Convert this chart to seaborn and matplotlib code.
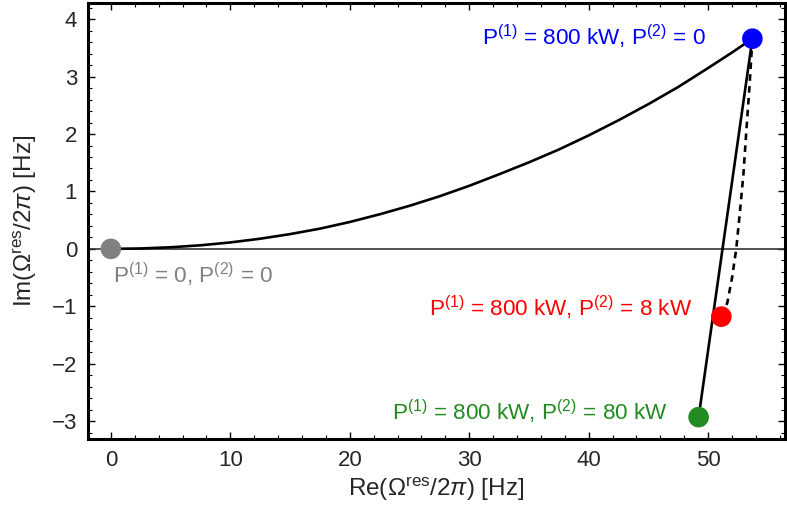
import matplotlib
matplotlib.use("Agg")
import matplotlib.pyplot as plt
from matplotlib.ticker import MultipleLocator
import seaborn as sns
import pandas as pd

# ---- data ----
curve_x = [0.0, 2.5, 5.0, 7.5, 10.0, 12.5, 15.0, 17.5, 20.0, 22.5, 25.0, 27.5,
           30.0, 32.5, 35.0, 37.5, 40.0, 42.5, 45.0, 47.5, 50.0, 52.0, 53.7]
curve_y = [0.0, 0.007, 0.028, 0.062, 0.112, 0.177, 0.257, 0.352, 0.468, 0.602, 0.75, 0.915,
           1.098, 1.299, 1.507, 1.730, 1.976, 2.240, 2.521, 2.820, 3.15, 3.42, 3.66]

solid_x = [53.7, 49.2]
solid_y = [3.66, -2.93]

dash_x = [53.7, 53.45, 53.2, 52.95, 52.65, 52.35, 52.0, 51.6, 51.1]
dash_y = [3.66, 2.8, 2.07, 1.3, 0.63, 0.0, -0.5, -0.94, -1.18]

pt_x = [0.0, 53.7, 51.1, 49.2]
pt_y = [0.0, 3.66, -1.18, -2.93]
pt_colors = ["#808080", "#0000ff", "#ff0000", "#228b22"]
pt_labels = [r"P$^{(1)}$ = 0, P$^{(2)}$ = 0",
             r"P$^{(1)}$ = 800 kW, P$^{(2)}$ = 0",
             r"P$^{(1)}$ = 800 kW, P$^{(2)}$ = 8 kW",
             r"P$^{(1)}$ = 800 kW, P$^{(2)}$ = 80 kW"]
lab_x = [0.2, 49.8, 48.7, 46.6]
lab_y = [-0.45, 3.69, -1.03, -2.84]
lab_ha = ["left", "right", "right", "right"]

sns.set_style("ticks")
plt.rcParams["font.family"] = ["Liberation Sans", "DejaVu Sans"]
plt.rcParams["mathtext.fontset"] = "custom"
plt.rcParams["mathtext.rm"] = "Liberation Sans"
plt.rcParams["mathtext.it"] = "Liberation Sans:italic"
plt.rcParams["mathtext.bf"] = "Liberation Sans:bold"

fig = plt.figure(figsize=(7.87, 5.14), dpi=100)
ax = fig.add_axes([0.112, 0.146, 0.885, 0.848])

ax.axhline(0, color="#333333", lw=1.2, zorder=1)

df_curve = pd.DataFrame({"x": curve_x, "y": curve_y})
sns.lineplot(data=df_curve, x="x", y="y", sort=False, color="black", lw=1.9, ax=ax, zorder=2)
df_solid = pd.DataFrame({"x": solid_x, "y": solid_y})
sns.lineplot(data=df_solid, x="x", y="y", sort=False, color="black", lw=1.9, ax=ax, zorder=2)
df_dash = pd.DataFrame({"x": dash_x, "y": dash_y})
sns.lineplot(data=df_dash, x="x", y="y", sort=False, color="black", lw=1.9, ax=ax, zorder=2,
             linestyle=(0, (2.5, 2.0)))

df_pts = pd.DataFrame({"x": pt_x, "y": pt_y, "c": pt_colors})
sns.scatterplot(data=df_pts, x="x", y="y", hue="c", palette={c: c for c in pt_colors},
                s=220, edgecolor="none", legend=False, ax=ax, zorder=5)

for lx, ly, t, c, ha in zip(lab_x, lab_y, pt_labels, pt_colors, lab_ha):
    ax.text(lx, ly, t, color=c, ha=ha, va="center", fontsize=16.2)

ax.set_xlim(-1.9, 56.4)
ax.set_ylim(-3.31, 4.28)
ax.xaxis.set_major_locator(MultipleLocator(10))
ax.xaxis.set_minor_locator(MultipleLocator(2))
ax.yaxis.set_major_locator(MultipleLocator(1))
ax.yaxis.set_minor_locator(MultipleLocator(0.2))
ax.tick_params(which="both", direction="in", top=True, right=True, color="black")
ax.tick_params(which="major", length=5, width=1.0, labelsize=16, pad=8)
ax.tick_params(which="minor", length=3, width=0.8)
for sp in ax.spines.values():
    sp.set_linewidth(2.2)
    sp.set_color("black")

ax.set_xlabel(r"Re($\Omega^{\mathrm{res}}$/2$\pi$) [Hz]", fontsize=17.5, labelpad=3)
ax.set_ylabel(r"Im($\Omega^{\mathrm{res}}$/2$\pi$) [Hz]", fontsize=17.5, labelpad=9)

fig.savefig("out.png", dpi=100)
